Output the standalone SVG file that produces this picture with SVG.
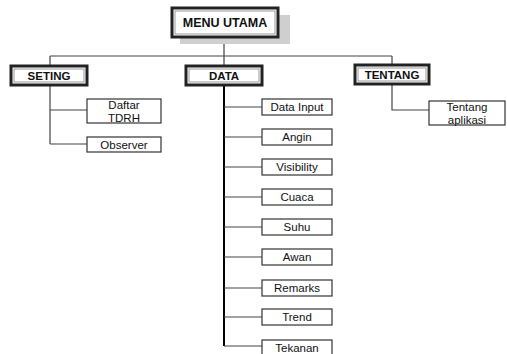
<svg xmlns="http://www.w3.org/2000/svg" width="507" height="354" viewBox="0 0 507 354">
<style>
text{font-family:"Liberation Sans","Open Sans",sans-serif;fill:#111;text-anchor:middle;dominant-baseline:central}
.b{font-weight:bold;font-size:11.5px}
.c{font-size:11.5px}
.outer{fill:#fff;stroke:#222;stroke-width:3}
.inner{fill:none;stroke:#999;stroke-width:1}
.box{fill:#fff;stroke:#333;stroke-width:1.2}
.ln{fill:none;stroke:#444;stroke-width:1.2}
.tr{fill:none;stroke:#000;stroke-width:2}
</style>
<rect width="507" height="354" fill="#fff"/>
<g id="connectors">
<path class="ln" d="M224 37V56M50 56H392M50 56V66M224 56V66M392 56V65"/>
<path class="ln" d="M50 85V144M50 110H87M50 144H87"/>
<path class="ln" d="M392 84V110H429"/>
<path class="tr" d="M224 85V346"/>
<path class="ln" d="M224 107H262M224 137H262M224 167H262M224 197H262M224 227H262M224 257H262M224 288H262M224 317H262M224 346H262"/>
</g>
<g id="menu">
<rect x="180" y="15" width="110" height="29" fill="#cfcfcf"/>
<rect class="outer" x="172" y="8" width="106" height="29"/>
<rect class="inner" x="175" y="11" width="100" height="23"/>
<text class="b" x="225" y="23" style="font-size:12.5px">MENU UTAMA</text>
</g>
<g id="seting">
<rect class="outer" x="11" y="66" width="76" height="19"/>
<rect class="inner" x="14" y="69" width="70" height="13"/>
<text class="b" x="49" y="76">SETING</text>
</g>
<g id="data">
<rect class="outer" x="186" y="66" width="76" height="19"/>
<rect class="inner" x="189" y="69" width="70" height="13"/>
<text class="b" x="224" y="76">DATA</text>
</g>
<g id="tentang">
<rect class="outer" x="355" y="65" width="74" height="19"/>
<rect class="inner" x="358" y="68" width="68" height="13"/>
<text class="b" x="392" y="75">TENTANG</text>
</g>
<g id="daftar">
<rect class="box" x="87" y="99" width="74" height="24"/>
<text class="c" x="124" y="104.5">Daftar</text>
<text class="c" x="124" y="118">TDRH</text>
</g>
<g id="observer">
<rect class="box" x="87" y="137" width="74" height="15"/>
<text class="c" x="124" y="144.5">Observer</text>
</g>
<g id="tentang-aplikasi">
<rect class="box" x="429" y="101" width="76" height="24"/>
<text class="c" x="467" y="106.5">Tentang</text>
<text class="c" x="467" y="120">aplikasi</text>
</g>
<g id="data-input"><rect class="box" x="262" y="99" width="70" height="16"/><text class="c" x="297" y="107">Data Input</text></g>
<g id="angin"><rect class="box" x="262" y="129" width="70" height="16"/><text class="c" x="297" y="137">Angin</text></g>
<g id="visibility"><rect class="box" x="262" y="159" width="70" height="16"/><text class="c" x="297" y="167">Visibility</text></g>
<g id="cuaca"><rect class="box" x="262" y="189" width="70" height="16"/><text class="c" x="297" y="197">Cuaca</text></g>
<g id="suhu"><rect class="box" x="262" y="219" width="70" height="16"/><text class="c" x="297" y="227">Suhu</text></g>
<g id="awan"><rect class="box" x="262" y="249" width="70" height="16"/><text class="c" x="297" y="257">Awan</text></g>
<g id="remarks"><rect class="box" x="262" y="280" width="70" height="16"/><text class="c" x="297" y="288">Remarks</text></g>
<g id="trend"><rect class="box" x="262" y="309" width="70" height="16"/><text class="c" x="297" y="317">Trend</text></g>
<g id="tekanan"><rect class="box" x="262" y="340" width="70" height="16"/><text class="c" x="297" y="348">Tekanan</text></g>
</svg>
